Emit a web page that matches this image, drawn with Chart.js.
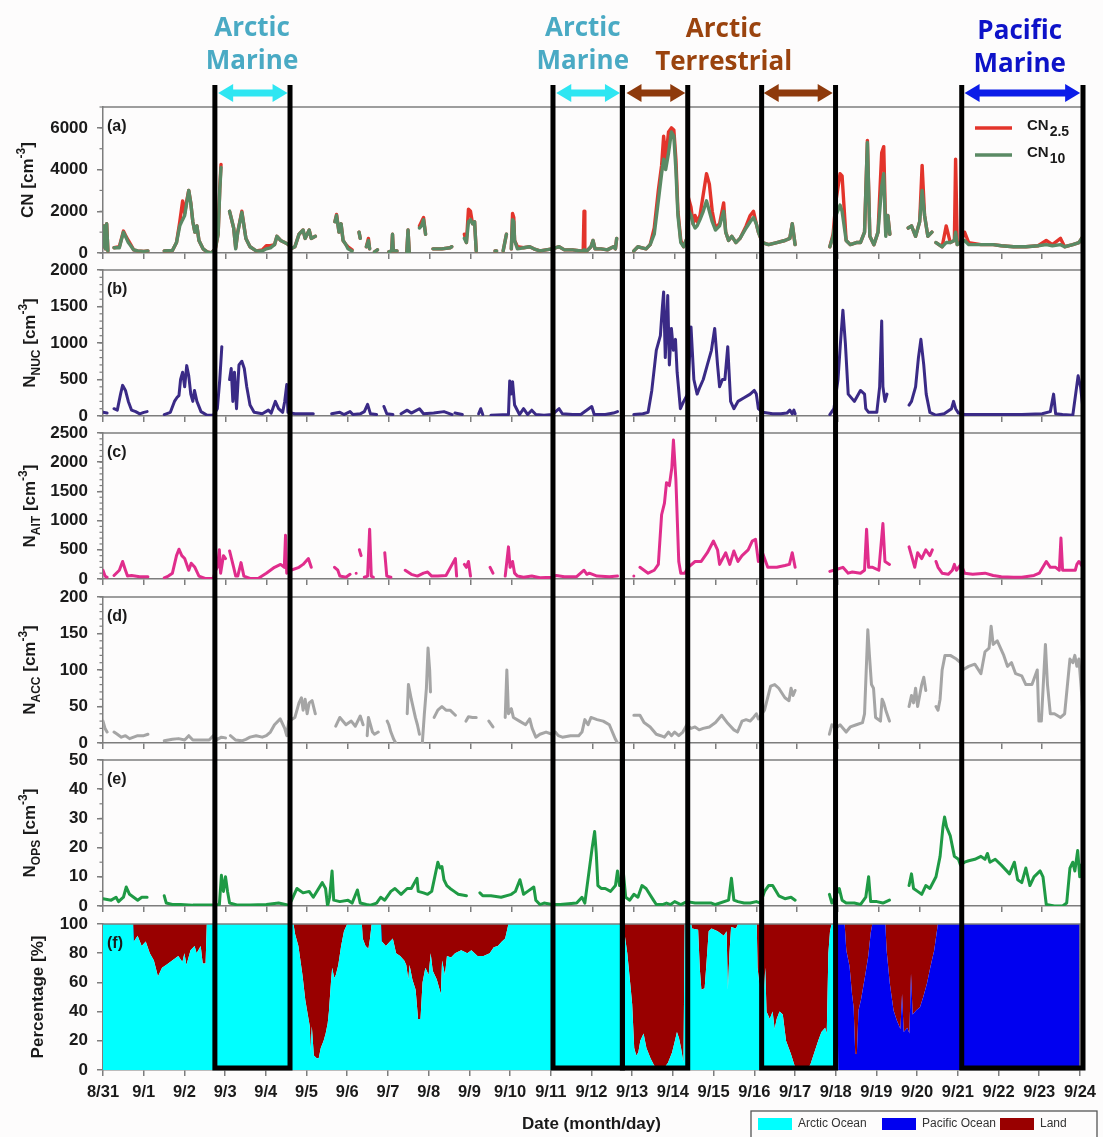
<!DOCTYPE html>
<html><head><meta charset="utf-8">
<script src="https://cdn.jsdelivr.net/npm/chart.js@4.4.1/dist/chart.umd.min.js"></script>
<style>
html,body{margin:0;padding:0;background:#fdfcfc;}
#wrap{position:relative;width:1103px;height:1137px;overflow:hidden;background:#fdfcfc;}
canvas{position:absolute;left:0;}
</style></head><body><div id="wrap">
<canvas id="pa" width="1103" height="164" style="top:97px"></canvas>
<canvas id="pb" width="1103" height="164" style="top:260px"></canvas>
<canvas id="pc" width="1103" height="164" style="top:423px"></canvas>
<canvas id="pd" width="1103" height="164" style="top:587px"></canvas>
<canvas id="pe" width="1103" height="164" style="top:750px"></canvas>
<canvas id="pf" width="1103" height="223" style="top:914px"></canvas>
<canvas id="ov" width="1103" height="1137" style="top:0;z-index:5;pointer-events:none"></canvas>
</div>
<script>
// ---------------- DATA ----------------
const dayTicks = [0,1,2,3,4,5,6,7,8,9,10,11,12,13,14,15,16,17,18,19,20,21,22,23,24];
const dateLabels = ['8/31','9/1','9/2','9/3','9/4','9/5','9/6','9/7','9/8','9/9','9/10','9/11','9/12','9/13','9/14','9/15','9/16','9/17','9/18','9/19','9/20','9/21','9/22','9/23','9/24'];

// (a) CN: days since 8/31 00:00
const timeA = [
 0,0.03,0.06,0.09,0.12,0.15,0.27,0.40,0.50,0.55,
 0.62,0.68,0.75,0.85,1.0,1.1,1.2,1.5,1.7,1.8,
 1.88,1.95,2.0,2.05,2.1,2.15,2.2,2.25,2.3,2.35,
 2.45,2.55,2.65,2.75,2.82,2.86,2.89,2.92,3.1,3.2,
 3.25,3.3,3.4,3.5,3.6,3.75,3.9,4.0,4.1,4.2,
 4.26,4.35,4.45,4.55,4.6,4.7,4.8,4.9,4.95,5.05,
 5.1,5.2,5.25,5.68,5.72,5.78,5.83,5.88,5.95,6.0,
 6.1,6.15,6.27,6.3,6.33,6.45,6.5,6.53,6.58,6.65,
 6.72,6.75,7.0,7.07,7.09,7.11,7.2,7.3,7.44,7.47,
 7.5,7.55,7.75,7.8,7.85,7.9,7.95,8.08,8.3,8.5,
 8.54,8.6,8.85,8.9,8.95,9.0,9.05,9.1,9.14,9.2,
 9.6,9.64,9.66,9.8,9.88,9.9,10.0,10.03,10.06,10.08,
 10.15,10.3,10.45,10.55,10.7,10.85,11.0,11.17,11.3,11.5,
 11.7,11.76,11.78,11.8,11.85,11.95,12.0,12.05,12.2,12.35,
 12.5,12.55,12.58,12.62,13.0,13.1,13.2,13.3,13.4,13.5,
 13.6,13.68,13.73,13.78,13.85,13.92,13.98,14.03,14.08,14.15,
 14.22,14.3,14.33,14.4,14.45,14.5,14.55,14.62,14.7,14.78,
 14.85,14.92,15.0,15.1,15.2,15.25,15.32,15.4,15.5,15.6,
 15.75,15.85,15.93,16.0,16.05,16.15,16.3,16.5,16.7,16.82,
 16.88,16.95,17.0,17.8,17.88,17.95,18.05,18.1,18.2,18.3,
 18.45,18.55,18.65,18.72,18.78,18.88,18.98,19.07,19.12,19.17,
 19.22,19.27,19.3,19.72,19.8,19.9,20.0,20.06,20.12,20.2,
 20.3,20.35,20.4,20.55,20.65,20.75,20.85,20.88,20.92,21.0,
 21.1,21.2,21.5,21.8,22.0,22.3,22.6,22.9,23.1,23.25,
 23.45,23.55,23.75,23.9,24.0];
const cn10 = [
 300,1300,200,1400,100,null,250,250,1000,800,
 500,350,150,100,80,100,null,100,120,500,
 1300,1600,1800,2400,3000,2400,1500,1000,1300,600,
 200,50,0,200,900,3000,4100,null,2000,1200,
 200,1000,1950,700,300,100,100,200,250,400,
 800,600,500,400,200,300,900,1100,700,1100,
 700,800,null,1500,1800,1000,1400,600,400,200,
 100,null,1000,700,null,300,600,200,null,50,
 150,null,50,100,900,100,100,null,50,1100,
 50,null,1200,1300,1600,900,null,200,200,250,
 300,null,700,500,1500,1600,1400,1500,100,null,
 100,100,null,100,900,null,200,1600,1500,600,
 200,250,300,200,100,150,200,300,150,150,
 100,100,150,100,100,300,600,200,200,150,
 300,200,700,null,100,300,250,200,400,900,
 2500,3800,4500,4000,4800,5800,5600,4000,1800,500,
 300,700,2100,1800,1400,1200,1300,1600,2000,2500,
 2000,1500,1100,1300,2000,1000,600,800,500,700,
 1200,1500,1700,1400,1000,500,400,500,600,700,
 1400,400,null,300,800,1800,2300,2000,600,400,
 500,500,1000,5300,800,400,1000,3200,3800,800,
 1800,900,null,1200,1300,800,1500,3000,1800,800,
 1000,null,500,300,500,500,600,1000,400,500,
 600,400,400,400,350,300,300,350,400,350,
 400,300,400,500,800];
const cn25 = [
 300,1300,200,1400,100,null,250,300,1050,850,
 600,400,150,100,80,100,null,100,120,500,
 1500,2500,1900,2500,3000,2400,1500,1000,1300,600,
 200,50,0,200,900,3100,4250,null,2000,1200,
 250,1000,2000,700,300,100,150,350,350,400,
 800,600,500,400,200,300,900,1100,700,1100,
 700,800,null,1500,1850,1000,1400,600,400,300,
 150,null,1000,700,null,300,700,200,null,50,
 150,null,50,100,900,100,100,null,50,1100,
 50,null,1300,1500,1700,900,null,200,200,250,
 300,null,900,500,2100,2000,1400,1500,100,null,
 100,100,null,100,900,null,200,1900,1700,600,
 300,250,300,200,100,150,200,300,150,150,
 100,100,2000,100,100,300,600,200,200,150,
 300,200,700,null,100,300,250,200,400,1200,
 3000,4200,5600,4500,5800,6000,5900,4500,2000,600,
 300,700,2700,2200,1400,1800,1500,1800,2800,3800,
 3300,2000,1200,1400,2400,1000,600,800,500,700,
 1300,1800,2000,1400,1000,500,400,500,600,700,
 1400,400,null,300,900,2500,3800,3700,600,400,
 500,500,1000,5400,800,400,1000,4800,5100,900,
 1800,900,null,1200,1300,800,1500,4200,1800,800,
 1000,null,500,300,1300,500,600,4500,400,500,
 1000,500,400,400,350,300,300,350,600,400,
 700,300,400,500,800];

// (b) N_NUC  [day, value]
const nucSeries = [[0,50],[0.1,40],[0.12,null],[0.27,100],[0.35,80],[0.43,300],[0.48,420],[0.55,350],[0.62,200],[0.7,80],[0.8,60],[0.9,30],[1.0,50],[1.08,60],[1.12,null],
 [1.5,20],[1.65,50],[1.75,200],[1.82,260],[1.86,280],[1.9,500],[1.95,600],[2.0,400],[2.05,690],[2.1,550],[2.15,300],[2.2,200],[2.24,350],[2.3,200],[2.4,60],[2.55,10],[2.7,10],[2.8,100],[2.86,500],[2.91,950],[2.93,null],
 [3.1,500],[3.14,650],[3.18,200],[3.22,600],[3.27,100],[3.33,700],[3.4,750],[3.46,650],[3.52,400],[3.6,150],[3.7,50],[3.9,30],[4.05,80],[4.12,40],[4.22,200],[4.3,100],[4.4,50],[4.45,200],[4.5,430],[4.53,50],[4.7,30],[5.0,30],[5.15,30],[5.18,null],
 [5.6,30],[5.8,50],[5.9,20],[6.05,60],[6.12,20],[6.3,30],[6.4,60],[6.48,160],[6.55,30],[6.7,20],[6.73,null],[6.88,130],[6.95,30],[7.1,20],[7.13,null],
 [7.3,30],[7.45,80],[7.55,40],[7.75,100],[7.85,30],[8.1,40],[8.35,60],[8.5,30],[8.55,20],[8.58,null],[8.62,40],[8.8,20],[8.82,null],[9.2,30],[9.25,100],[9.3,20],[9.33,null],
 [9.5,10],[9.93,20],[9.96,480],[9.99,300],[10.03,470],[10.08,150],[10.2,20],[10.3,100],[10.4,20],[10.5,80],[10.6,20],[10.8,10],[11.0,20],[11.17,100],[11.25,30],[11.5,20],[11.7,20],[11.97,130],[12.03,20],[12.3,20],[12.5,40],[12.6,60],[12.63,null],
 [13.0,20],[13.22,30],[13.35,50],[13.44,350],[13.55,900],[13.65,1100],[13.7,1500],[13.73,1700],[13.77,800],[13.8,1200],[13.83,1650],[13.87,700],[13.92,1200],[13.97,900],[14.02,1050],[14.06,600],[14.14,100],[14.22,200],
 [14.32,300],[14.4,1220],[14.47,500],[14.55,300],[14.62,400],[14.7,500],[14.8,700],[14.9,900],[14.98,1200],[15.05,700],[15.1,400],[15.17,500],[15.23,500],[15.3,950],[15.37,200],[15.45,100],[15.55,200],[15.7,250],[15.85,300],[15.95,350],[16.0,300],
 [16.05,100],[16.15,50],[16.4,30],[16.6,30],[16.75,40],[16.82,80],[16.88,30],[16.92,80],[16.95,30],[16.98,null],
 [17.8,20],[17.9,100],[18.0,500],[18.06,1000],[18.12,1450],[18.18,1000],[18.25,300],[18.4,200],[18.55,350],[18.65,300],[18.68,100],[18.75,50],[18.95,50],[19.02,400],[19.07,1300],[19.1,400],[19.15,200],[19.2,300],[19.23,null],
 [19.74,150],[19.8,200],[19.9,400],[19.97,800],[20.03,1050],[20.1,700],[20.16,300],[20.25,50],[20.4,10],[20.6,30],[20.78,100],[20.83,200],[20.88,100],[20.95,40],[21.1,20],[21.5,20],[22.0,20],[22.5,20],[23.0,30],[23.2,60],[23.28,300],[23.33,30],[23.5,20],[23.75,10],[23.82,300],[23.88,550],[23.94,400],[24.0,100]];

// (c) N_AIT
const aitSeries = [[0,150],[0.05,50],[0.1,30],[0.12,null],[0.27,60],[0.4,150],[0.48,300],[0.55,150],[0.6,50],[0.7,60],[0.9,40],[1.1,40],[1.12,null],
 [1.5,20],[1.6,50],[1.7,100],[1.8,400],[1.86,510],[1.93,400],[2.0,350],[2.1,150],[2.16,270],[2.25,200],[2.35,50],[2.5,10],[2.7,10],[2.76,150],[2.8,200],[2.85,500],[2.88,100],[2.95,400],[3.0,350],[3.02,null],
 [3.1,480],[3.2,200],[3.25,50],[3.3,50],[3.38,280],[3.45,50],[3.6,10],[3.8,10],[4.0,100],[4.2,200],[4.35,250],[4.44,200],[4.47,750],[4.5,100],[4.53,null],
 [4.6,150],[4.8,200],[4.9,250],[5.03,350],[5.1,200],[5.12,null],[5.67,200],[5.75,150],[5.8,50],[5.95,30],[6.05,80],[6.08,null],[6.2,100],[6.22,null],[6.28,500],[6.32,400],[6.34,null],
 [6.4,30],[6.48,50],[6.53,850],[6.57,50],[6.62,30],[6.65,null],[6.9,450],[6.95,50],[7.05,30],[7.08,null],
 [7.4,150],[7.55,80],[7.7,50],[7.85,100],[7.95,120],[8.05,50],[8.2,50],[8.4,60],[8.55,250],[8.63,350],[8.66,50],[8.7,null],[8.85,250],[8.9,200],[8.95,300],[9.0,50],[9.03,null],
 [9.48,200],[9.55,100],[9.58,null],[9.85,50],[9.93,550],[9.97,200],[10.03,300],[10.08,100],[10.15,50],[10.3,30],[10.5,50],[10.7,20],[11.0,30],[11.1,60],[11.3,40],[11.6,40],[11.78,150],[11.85,80],[11.91,100],[12.1,50],[12.4,40],[12.6,50],[12.63,null],
 [13.0,50],[13.03,null],[13.15,200],[13.25,150],[13.35,100],[13.5,150],[13.6,250],[13.68,1100],[13.75,1300],[13.8,1650],[13.87,1600],[13.93,1900],[13.97,2380],[14.03,1700],[14.1,300],[14.15,100],[14.25,100],
 [14.33,200],[14.5,300],[14.65,300],[14.8,450],[14.95,650],[15.05,500],[15.1,250],[15.25,450],[15.35,250],[15.45,480],[15.55,300],[15.65,400],[15.8,500],[15.9,650],[15.98,680],[16.05,300],[16.15,450],[16.28,200],[16.5,200],[16.7,230],[16.81,250],[16.88,450],[16.95,200],[16.98,null],
 [17.8,130],[17.9,150],[18.12,200],[18.25,100],[18.35,120],[18.55,100],[18.65,150],[18.7,850],[18.75,200],[18.85,200],[19.0,150],[19.1,950],[19.15,300],[19.26,250],[19.29,null],
 [19.74,550],[19.8,400],[19.88,200],[19.95,450],[20.05,350],[20.15,500],[20.25,400],[20.31,500],[20.34,null],
 [20.4,300],[20.45,200],[20.55,100],[20.7,80],[20.8,150],[20.85,250],[20.9,150],[21.01,250],[21.1,100],[21.3,80],[21.6,100],[21.8,60],[22.0,40],[22.3,30],[22.5,30],[22.8,60],[22.93,100],[23.1,300],[23.2,200],[23.33,200],[23.42,150],[23.46,700],[23.5,150],[23.63,150],[23.81,150],[23.85,250],[23.9,300],[24.0,200]];

// (d) N_ACC
const accSeries = [[0,30],[0.05,20],[0.1,15],[0.12,null],[0.27,15],[0.35,12],[0.45,8],[0.55,10],[0.65,6],[0.75,8],[0.85,10],[1.0,10],[1.1,12],[1.12,null],
 [1.5,3],[1.7,5],[1.85,6],[2.0,4],[2.1,10],[2.2,4],[2.4,4],[2.6,4],[2.7,10],[2.8,5],[2.9,8],[3.0,7],[3.03,null],
 [3.12,10],[3.25,4],[3.4,3],[3.5,5],[3.6,8],[3.75,10],[3.9,8],[4.0,10],[4.1,15],[4.2,25],[4.34,33],[4.45,20],[4.5,10],[4.55,30],[4.7,35],[4.8,55],[4.86,62],[4.9,45],[4.95,60],[5.0,40],[5.05,55],[5.12,58],[5.2,40],[5.23,null],
 [5.7,23],[5.8,35],[5.95,25],[6.08,30],[6.18,23],[6.3,37],[6.37,25],[6.4,null],[6.47,10],[6.5,35],[6.55,25],[6.6,15],[6.65,12],[6.74,15],[6.77,null],
 [6.96,30],[7.0,25],[7.05,15],[7.12,5],[7.17,0],[7.2,null],[7.45,40],[7.48,80],[7.55,60],[7.65,35],[7.7,25],[7.75,12],[7.78,null],
 [7.82,0],[7.87,40],[7.92,75],[7.96,130],[8.0,100],[8.02,70],[8.05,null],[8.11,35],[8.2,45],[8.3,50],[8.4,45],[8.5,45],[8.63,38],[8.66,null],
 [8.89,30],[8.95,36],[9.05,35],[9.14,35],[9.17,null],[9.45,30],[9.55,22],[9.58,null],
 [9.85,35],[9.89,100],[9.93,40],[10.0,47],[10.05,35],[10.2,30],[10.35,25],[10.45,33],[10.51,20],[10.6,8],[10.7,12],[10.85,15],[11.0,12],[11.08,15],[11.15,10],[11.25,8],[11.45,10],[11.65,10],[11.73,15],[11.8,32],[11.88,25],[11.95,35],[12.1,32],[12.25,30],[12.4,25],[12.55,5],[12.6,0],[12.63,null],
 [13.0,38],[13.15,38],[13.25,28],[13.4,22],[13.55,12],[13.66,10],[13.75,8],[13.85,15],[13.92,10],[14.0,15],[14.1,10],[14.2,15],[14.3,25],[14.4,20],[14.5,22],[14.6,18],[14.7,20],[14.85,22],[15.0,28],[15.15,38],[15.3,27],[15.45,18],[15.54,15],[15.65,30],[15.75,32],[15.85,30],[15.93,35],[16.0,40],
 [16.05,33],[16.2,45],[16.35,78],[16.45,80],[16.55,75],[16.7,62],[16.8,58],[16.85,75],[16.9,65],[16.95,72],[16.98,null],
 [17.79,12],[17.85,25],[17.95,20],[18.05,25],[18.2,15],[18.3,22],[18.45,25],[18.6,28],[18.65,40],[18.73,155],[18.77,120],[18.82,80],[18.87,75],[18.92,35],[19.04,30],[19.08,60],[19.12,55],[19.17,45],[19.26,30],[19.29,null],
 [19.74,50],[19.8,65],[19.85,55],[19.9,75],[19.95,50],[20.05,80],[20.1,90],[20.15,72],[20.18,null],
 [20.4,50],[20.45,45],[20.5,60],[20.55,100],[20.62,120],[20.75,120],[20.9,115],[21.0,110],[21.05,100],[21.2,105],[21.35,108],[21.5,95],[21.6,125],[21.7,130],[21.75,160],[21.8,135],[21.9,140],[22.06,120],[22.15,105],[22.25,110],[22.35,95],[22.5,92],[22.6,80],[22.75,80],[22.88,100],[22.92,30],[22.98,30],[23.08,135],[23.13,80],[23.2,40],[23.3,40],[23.45,35],[23.55,40],[23.68,115],[23.75,110],[23.8,120],[23.85,105],[23.9,115],[23.95,80],[24.0,40]];

// (e) N_OPS
const opsSeries = [[0,2.5],[0.2,2],[0.32,3],[0.38,1.5],[0.5,3],[0.57,6.5],[0.65,4],[0.75,3],[0.85,2],[0.95,3],[1.08,3],[1.12,null],
 [1.5,3.5],[1.55,1],[1.7,0.5],[1.9,0.5],[2.2,0.3],[2.5,0.3],[2.7,0.3],[2.85,0.5],[2.9,10.5],[2.95,5],[3.0,10],[3.05,5],[3.1,1],[3.3,0.3],[3.6,0.3],[4.0,0.5],[4.3,1],[4.55,0.3],
 [4.62,2],[4.75,6],[4.9,4.5],[5.05,5],[5.15,3],[5.37,8],[5.45,6],[5.5,0],[5.55,3],[5.61,12],[5.65,2],[5.8,1.5],[6.0,2],[6.1,1],[6.23,5.5],[6.3,1],[6.45,0.5],[6.55,0.3],[6.7,1],[6.8,3],[6.9,2],
 [7.05,5],[7.15,6],[7.3,4],[7.45,6],[7.55,6],[7.69,9.5],[7.72,5],[7.85,4.5],[7.95,4],[8.05,5],[8.2,15],[8.25,13],[8.3,13.5],[8.35,9],[8.42,7],[8.5,6],[8.6,5],[8.7,4],[8.9,3.5],[8.93,null],
 [9.23,4.5],[9.3,3.5],[9.5,3.5],[9.75,3],[10.0,4],[10.1,5],[10.21,9],[10.3,4],[10.4,5],[10.55,6.5],[10.6,2],[10.7,0.5],[10.8,1],[11.0,0.5],[11.2,0.5],[11.6,1],[11.73,3],[11.8,1],[11.98,20],[12.04,25.5],[12.08,18],[12.12,7],[12.2,6],[12.3,6],[12.43,5],[12.55,7],[12.6,12],[12.65,7],[12.74,12],[12.8,3],[12.9,2],
 [13.0,4],[13.1,3],[13.2,7],[13.3,6],[13.48,2],[13.55,0.5],[13.7,0.5],[13.8,1],[13.9,0.5],[14.0,1.5],[14.15,0.5],[14.3,1.5],[14.5,1],[14.7,1],[14.9,1],[15.0,0.5],[15.32,2],[15.39,9.5],[15.45,2],[15.55,1.5],[15.7,1],[15.85,1],[16.0,1.5],[16.1,1],[16.2,5],[16.3,7],[16.4,7],[16.55,3.5],[16.7,2.5],[16.85,3],[16.95,2],[16.98,null],
 [17.79,4],[17.85,1],[18.03,6],[18.1,2],[18.2,1],[18.4,1],[18.55,0.5],[18.68,3],[18.75,10],[18.8,1.5],[18.95,1.5],[19.1,1],[19.26,2],[19.29,null],
 [19.74,7],[19.8,11],[19.85,6],[19.95,5],[20.05,4],[20.15,7],[20.25,6],[20.4,10],[20.5,17],[20.57,27],[20.61,30.5],[20.66,27],[20.75,24],[20.85,17],[20.95,16],[21.0,14],[21.1,15],[21.2,15.5],[21.35,16],[21.5,17],[21.6,16],[21.66,18],[21.72,15],[21.85,16],[22.0,14],[22.2,11],[22.32,15],[22.4,9],[22.5,8],[22.6,13],[22.7,7],[22.8,10],[22.95,12],[23.02,10],[23.1,0.5],[23.3,0],[23.5,0],[23.6,1],[23.68,13],[23.75,15],[23.8,12],[23.87,19],[23.92,10],[23.96,14],[24.0,13]];

// (f) Air-mass origin percentage
const timeF = [
 0,0.74,0.76,0.85,0.95,1.05,1.15,1.25,1.35,1.45,1.55,1.7,1.85,1.95,2.0,2.05,2.15,2.25,2.3,2.4,2.45,2.52,2.55,
 4.68,4.72,4.8,4.9,4.97,5.03,5.08,5.1,5.13,5.18,5.25,5.3,5.35,5.42,5.47,5.52,5.55,5.6,5.63,5.68,5.72,5.78,5.85,5.92,6.0,
 6.36,6.38,6.45,6.52,6.56,6.6,
 6.83,6.85,6.95,7.05,7.12,7.2,7.3,7.4,7.45,7.5,7.53,7.6,7.68,7.74,7.8,7.85,7.92,8.0,8.05,8.1,8.2,8.3,8.33,8.4,8.45,8.55,8.65,8.8,8.95,9.05,9.2,9.35,9.5,9.6,9.7,9.8,9.88,9.96,
 12.78,12.82,12.88,12.95,13.0,13.05,13.1,13.15,13.2,13.28,13.35,13.45,13.54,13.62,13.7,13.78,13.88,13.98,14.05,14.1,14.15,14.2,14.26,14.29,
 14.45,14.47,14.62,14.66,14.7,14.78,14.83,14.88,14.95,15.1,15.25,15.32,15.35,15.39,15.43,15.55,15.6,
 16.06,16.08,16.12,16.16,16.2,16.23,16.27,16.3,16.38,16.45,16.5,16.55,16.62,16.7,16.78,16.9,17.0,17.13,17.3,17.38,17.57,17.65,17.74,17.78,17.82,17.86,17.9,
 18.04,18.06,
 18.22,18.26,18.34,18.4,18.44,18.48,18.52,18.56,18.62,18.72,18.8,18.86,18.9,
 19.22,19.25,19.33,19.42,19.5,19.59,19.63,19.67,19.76,19.81,19.85,19.89,19.98,20.07,20.15,20.24,20.33,20.42,20.51,
 24];
const arcticPct = [
 100,100,88,92,85,88,80,75,64,70,72,75,78,74,80,72,82,85,80,85,73,73,100,
 100,93,85,65,48,38,30,13,30,10,8,8,15,20,25,32,40,60,70,63,65,72,85,95,100,
 100,90,85,83,90,100,
 100,88,85,88,90,80,78,75,72,62,72,62,55,35,35,60,70,65,80,68,62,52,75,65,78,77,80,82,80,82,78,78,80,84,85,88,90,100,
 100,92,80,60,45,15,10,12,20,25,15,8,3,1,0,1,5,12,20,26,22,15,5,100,
 100,97,96,70,55,56,75,95,97,95,92,95,55,80,98,97,100,
 100,70,60,55,30,50,70,40,35,40,28,35,40,38,20,11,2,0,0,4,20,26,29,25,80,95,100,
 100,0,
 0,0,0,0,0,0,0,0,0,0,0,0,0,
 0,0,0,0,0,0,0,0,0,0,0,0,0,0,0,0,0,0,0,
 0];
const pacificPct = [
 0,0,0,0,0,0,0,0,0,0,0,0,0,0,0,0,0,0,0,0,0,0,0,
 0,0,0,0,0,0,0,0,0,0,0,0,0,0,0,0,0,0,0,0,0,0,0,0,0,
 0,0,0,0,0,0,
 0,0,0,0,0,0,0,0,0,0,0,0,0,0,0,0,0,0,0,0,0,0,0,0,0,0,0,0,0,0,0,0,0,0,0,0,0,0,
 0,0,0,0,0,0,0,0,0,0,0,0,0,0,0,0,0,0,0,0,0,0,0,0,
 0,0,0,0,0,0,0,0,0,0,0,0,0,0,0,0,0,
 0,0,0,0,0,0,0,0,0,0,0,0,0,0,0,0,0,0,0,0,0,0,0,0,0,0,0,
 0,100,
 100,82,71,52,43,11,11,41,48,64,78,94,100,
 100,82,59,41,34,28,52,26,29,25,66,38,41,43,50,59,71,82,100,
 100];
const landPct = [
 0,0,12,8,15,12,20,25,36,30,28,25,22,26,20,28,18,15,20,15,27,27,0,
 0,7,15,35,52,62,70,87,70,90,92,92,85,80,75,68,60,40,30,37,35,28,15,5,0,
 0,10,15,17,10,0,
 0,12,15,12,10,20,22,25,28,38,28,38,45,65,65,40,30,35,20,32,38,48,25,35,22,23,20,18,20,18,22,22,20,16,15,12,10,0,
 0,8,20,40,55,85,90,88,80,75,85,92,97,99,100,99,95,88,80,74,78,85,95,0,
 0,3,4,30,45,44,25,5,3,5,8,5,45,20,2,3,0,
 0,30,40,45,70,50,30,60,65,60,72,65,60,62,80,89,98,100,100,96,80,74,71,75,20,5,0,
 0,0,
 0,18,29,48,57,89,89,59,52,36,22,6,0,
 0,18,41,59,66,72,48,74,71,75,34,62,59,57,50,41,29,18,0,
 0];

// Highlighted periods [start day, end day]
const periods = [[2.74,4.58],[11.02,12.72],[12.72,14.32],[16.13,17.94],[21.03,24.0]];
const arrowSpans = [[2.82,4.52,'#2ee6f2'],[11.1,12.66,'#2ee6f2'],[12.82,14.26,'#8e3a0c'],[16.18,17.87,'#8e3a0c'],[21.1,23.93,'#0b1ce8']];
const regionLabels = [
 {lines:['Arctic','Marine'], day:3.65, color:'#4aaac4', y:[29,62]},
 {lines:['Arctic','Marine'], day:11.75, color:'#4aaac4', y:[29,62]},
 {lines:['Arctic','Terrestrial'], day:15.2, color:'#9a430e', y:[30,63]},
 {lines:['Pacific','Marine'], day:22.45, color:'#0d12c8', y:[32,65]}];

// ---------------- DRAWING ----------------
const FONT = "'Liberation Sans', Arial, Helvetica, sans-serif";
const AX = '#7d7d7d';
const TXT = '#1a1a1a';
const toXY = (ts, vs) => ts.map((t, i) => ({x: t, y: vs[i]}));
const pairXY = arr => arr.map(p => ({x: p[0], y: p[1]}));

function richText(ctx, segs, bx, cy, size) {
  ctx.save();
  ctx.translate(bx, cy);
  ctx.rotate(-Math.PI / 2);
  ctx.textBaseline = 'alphabetic';
  ctx.textAlign = 'left';
  ctx.fillStyle = TXT;
  const fontOf = s => 'bold ' + (s.k === 'n' ? size : Math.round(size * 0.7)) + 'px ' + FONT;
  let w = 0;
  segs.forEach(s => { ctx.font = fontOf(s); w += ctx.measureText(s.t).width; });
  let x = -w / 2;
  segs.forEach(s => {
    ctx.font = fontOf(s);
    const dy = s.k === 'sub' ? size * 0.3 : (s.k === 'sup' ? -size * 0.45 : 0);
    ctx.fillText(s.t, x, dy);
    x += ctx.measureText(s.t).width;
  });
  ctx.restore();
}

function panelPlugin(cfg) {
  return {
    id: 'panelDeco',
    afterDraw(chart) {
      const ctx = chart.ctx, a = chart.chartArea, y = chart.scales.y;
      ctx.save();
      ctx.strokeStyle = AX; ctx.lineWidth = 1.5;
      ctx.beginPath(); ctx.moveTo(a.left, a.top); ctx.lineTo(a.right, a.top); ctx.lineTo(a.right, a.bottom); ctx.stroke();
      if (cfg.minor) {
        ctx.lineWidth = 1.2;
        for (let v = 0; v <= cfg.max + 1e-9; v += cfg.minor) {
          const p = y.getPixelForValue(v);
          ctx.beginPath(); ctx.moveTo(a.left - 3.5, p); ctx.lineTo(a.left, p); ctx.stroke();
        }
      }
      ctx.fillStyle = TXT; ctx.font = 'bold 16px ' + FONT; ctx.textBaseline = 'middle'; ctx.textAlign = 'left';
      ctx.fillText(cfg.letter, a.left + 4, a.top + 20);
      ctx.restore();
      richText(ctx, cfg.title, cfg.titleX, (a.top + a.bottom) / 2, 17);
      if (cfg.legend) {
        ctx.save();
        cfg.legend.forEach((item, i) => {
          const ly = a.top + 21 + i * 27;
          ctx.strokeStyle = item.color; ctx.lineWidth = 3.5;
          ctx.beginPath(); ctx.moveTo(a.right - 108, ly); ctx.lineTo(a.right - 71, ly); ctx.stroke();
          ctx.fillStyle = TXT; ctx.textBaseline = 'middle'; ctx.textAlign = 'left';
          ctx.font = 'bold 15px ' + FONT;
          const x0 = a.right - 56;
          ctx.fillText(item.main, x0, ly - 2);
          const w = ctx.measureText(item.main).width;
          ctx.font = 'bold 14px ' + FONT;
          ctx.fillText(item.sub, x0 + w + 1, ly + 4);
        });
        ctx.restore();
      }
    }
  };
}

function panel(id, cfg) {
  const isLast = !!cfg.last;
  return new Chart(document.getElementById(id), {
    type: 'line',
    data: { datasets: cfg.datasets },
    options: {
      responsive: false, animation: false, devicePixelRatio: 1,
      layout: { padding: { top: 10, right: 20, left: 0, bottom: 0 } },
      plugins: { legend: { display: false }, tooltip: { enabled: false } },
      elements: { point: { radius: 0, hoverRadius: 0 }, line: { tension: 0, borderJoinStyle: 'round', borderCapStyle: 'round' } },
      spanGaps: false,
      scales: {
        x: {
          type: 'linear', min: 0, max: 24,
          afterBuildTicks: s => { s.ticks = dayTicks.map(v => ({ value: v })); },
          afterFit: s => { s.height = isLast ? 67 : 8; },
          grid: { drawOnChartArea: false, drawTicks: true, tickLength: 6, color: AX, lineWidth: 1.5 },
          border: { display: true, color: AX, width: 1.5 },
          ticks: { display: isLast, autoSkip: false, maxRotation: 0, minRotation: 0, padding: 7, color: TXT,
                   font: { family: FONT, size: 16.5, weight: 'bold' }, callback: (v, i) => dateLabels[i] },
          title: { display: isLast, text: 'Date (month/day)', color: TXT, font: { family: FONT, size: 17, weight: 'bold' }, padding: { top: 0, bottom: 2 } }
        },
        y: {
          stacked: !!cfg.stacked, min: 0, max: cfg.max,
          afterBuildTicks: s => { s.ticks = cfg.ticks.map(v => ({ value: v })); },
          afterFit: s => { s.width = 103; s.paddingTop = 0; s.paddingBottom = 0; },
          grid: { drawOnChartArea: false, drawTicks: true, tickLength: 6, color: AX, lineWidth: 1.5 },
          border: { display: true, color: AX, width: 1.5 },
          ticks: { padding: 9, color: TXT, font: { family: FONT, size: 17, weight: 'bold' }, callback: v => String(v) }
        }
      }
    },
    plugins: [panelPlugin(cfg)]
  });
}

const lw = 3;
panel('pa', {
  max: 7000, ticks: [0,2000,4000,6000], minor: 1000, letter: '(a)', titleX: 33,
  title: [{t:'CN [cm',k:'n'},{t:'-3',k:'sup'},{t:']',k:'n'}],
  legend: [{color:'#e3342b', main:'CN', sub:'2.5'},{color:'#5a8a64', main:'CN', sub:'10'}],
  datasets: [
    { label: 'CN10', data: toXY(timeA, cn10), borderColor: '#5a8a64', borderWidth: 3.4 },
    { label: 'CN2.5', data: toXY(timeA, cn25), borderColor: '#e3342b', borderWidth: 3.4 }
  ]
});
panel('pb', {
  max: 2000, ticks: [0,500,1000,1500,2000], minor: 100, letter: '(b)', titleX: 35,
  title: [{t:'N',k:'n'},{t:'NUC',k:'sub'},{t:' [cm',k:'n'},{t:'-3',k:'sup'},{t:']',k:'n'}],
  datasets: [{ label: 'N_NUC', data: pairXY(nucSeries), borderColor: '#3a2a86', borderWidth: lw }]
});
panel('pc', {
  max: 2500, ticks: [0,500,1000,1500,2000,2500], minor: 100, letter: '(c)', titleX: 35,
  title: [{t:'N',k:'n'},{t:'AIT',k:'sub'},{t:' [cm',k:'n'},{t:'-3',k:'sup'},{t:']',k:'n'}],
  datasets: [{ label: 'N_AIT', data: pairXY(aitSeries), borderColor: '#e02d8c', borderWidth: lw }]
});
panel('pd', {
  max: 200, ticks: [0,50,100,150,200], minor: 10, letter: '(d)', titleX: 35,
  title: [{t:'N',k:'n'},{t:'ACC',k:'sub'},{t:' [cm',k:'n'},{t:'-3',k:'sup'},{t:']',k:'n'}],
  datasets: [{ label: 'N_ACC', data: pairXY(accSeries), borderColor: '#a5a5a5', borderWidth: lw }]
});
panel('pe', {
  max: 50, ticks: [0,10,20,30,40,50], minor: 5, letter: '(e)', titleX: 35,
  title: [{t:'N',k:'n'},{t:'OPS',k:'sub'},{t:' [cm',k:'n'},{t:'-3',k:'sup'},{t:']',k:'n'}],
  datasets: [{ label: 'N_OPS', data: pairXY(opsSeries), borderColor: '#1f9a45', borderWidth: lw }]
});
panel('pf', {
  max: 100, ticks: [0,20,40,60,80,100], minor: 0, letter: '(f)', titleX: 43, stacked: true, last: true,
  title: [{t:'Percentage [%]',k:'n'}],
  datasets: [
    { label: 'Arctic Ocean', data: toXY(timeF, arcticPct), borderWidth: 0, backgroundColor: '#00ffff', fill: 'origin', stack: 's' },
    { label: 'Pacific Ocean', data: toXY(timeF, pacificPct), borderWidth: 0, backgroundColor: '#0000f0', fill: '-1', stack: 's' },
    { label: 'Land', data: toXY(timeF, landPct), borderWidth: 0, backgroundColor: '#990000', fill: '-1', stack: 's' }
  ]
});

// ---------------- OVERLAY: periods, arrows, labels, legend ----------------
function arrow(ctx, x1, x2, y, color) {
  const hl = 15, hh = 9, sh = 3.5;
  ctx.fillStyle = color;
  ctx.beginPath();
  ctx.moveTo(x1, y);
  ctx.lineTo(x1 + hl, y - hh); ctx.lineTo(x1 + hl, y - sh);
  ctx.lineTo(x2 - hl, y - sh); ctx.lineTo(x2 - hl, y - hh);
  ctx.lineTo(x2, y);
  ctx.lineTo(x2 - hl, y + hh); ctx.lineTo(x2 - hl, y + sh);
  ctx.lineTo(x1 + hl, y + sh); ctx.lineTo(x1 + hl, y + hh);
  ctx.closePath(); ctx.fill();
}
new Chart(document.getElementById('ov'), {
  type: 'line',
  data: { datasets: [] },
  options: {
    responsive: false, animation: false, devicePixelRatio: 1,
    layout: { padding: { top: 0, right: 20, left: 103, bottom: 0 } },
    plugins: { legend: { display: false }, tooltip: { enabled: false } },
    scales: {
      x: { type: 'linear', min: 0, max: 24, display: false },
      y: { type: 'linear', min: 0, max: 1137, reverse: true, display: false }
    }
  },
  plugins: [{
    id: 'overlayDeco',
    afterDraw(chart) {
      const ctx = chart.ctx, xs = chart.scales.x, ys = chart.scales.y;
      ctx.save();
      ctx.textAlign = 'center'; ctx.textBaseline = 'middle';
      ctx.font = "bold 26px 'Open Sans', 'DejaVu Sans', sans-serif";
      regionLabels.forEach(l => {
        ctx.fillStyle = l.color;
        l.lines.forEach((s, i) => ctx.fillText(s, xs.getPixelForValue(l.day), ys.getPixelForValue(l.y[i])));
      });
      arrowSpans.forEach(a => arrow(ctx, xs.getPixelForValue(a[0]), xs.getPixelForValue(a[1]), ys.getPixelForValue(93), a[2]));
      ctx.strokeStyle = '#000'; ctx.lineWidth = 5; ctx.lineJoin = 'miter';
      periods.forEach(p => {
        const x1 = xs.getPixelForValue(p[0]), x2 = xs.getPixelForValue(p[1]);
        const yt = ys.getPixelForValue(85), yb = ys.getPixelForValue(1068);
        ctx.beginPath(); ctx.moveTo(x1, yt); ctx.lineTo(x1, yb); ctx.lineTo(x2, yb); ctx.lineTo(x2, yt); ctx.stroke();
      });
      const ly = ys.getPixelForValue(1124);
      ctx.lineWidth = 1.3; ctx.strokeStyle = '#555';
      ctx.strokeRect(751, ys.getPixelForValue(1111), 346, 40);
      const items = [['#00ffff', 'Arctic Ocean', 758], ['#0000f0', 'Pacific Ocean', 882], ['#990000', 'Land', 1000]];
      ctx.textAlign = 'left'; ctx.textBaseline = 'middle'; ctx.font = '12px ' + FONT;
      items.forEach(it => {
        ctx.fillStyle = it[0]; ctx.fillRect(it[2], ly - 6, 34, 12);
        ctx.fillStyle = '#333'; ctx.fillText(it[1], it[2] + 40, ly);
      });
      ctx.restore();
    }
  }]
});
</script>
</body></html>
